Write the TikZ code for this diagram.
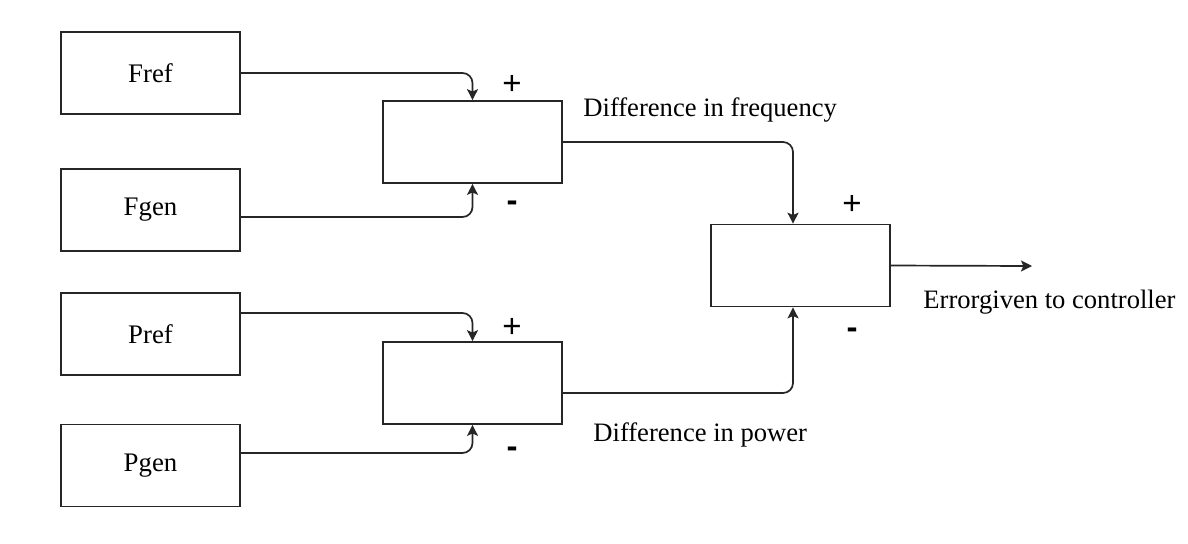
\documentclass[tikz,border=0pt]{standalone}
\usepackage{fontspec}
\setmainfont{Liberation Serif}
\newfontfamily\signfont{Liberation Sans}
\usetikzlibrary{arrows.meta}
\begin{document}
\begin{tikzpicture}[x=0.5pt,y=-0.5pt,
  blk/.style={draw=black!85,line width=0.85pt,minimum width=89.5pt,minimum height=41pt,inner sep=0pt,font=\fontsize{13.4}{16}\selectfont},
  conn/.style={draw=black!85,line width=0.85pt,rounded corners=5pt,-{Stealth[length=5.5pt,width=5.5pt,inset=1.2pt]}},
  lbl/.style={anchor=base west,inner sep=0pt,font=\fontsize{13.3}{16}\selectfont},
  sgn/.style={inner sep=0pt,font=\signfont\fontsize{16.5}{18}\selectfont},
  msgn/.style={inner sep=0pt,font=\signfont\bfseries\fontsize{16.5}{18}\selectfont}]
\useasboundingbox (0,0) rectangle (1188,543);
\node[blk] (Fref) at (150.5,73) {Fref};
\node[blk] (Fgen) at (150.5,210) {Fgen};
\node[blk] (Pref) at (150.5,334) {Pref};
\node[blk] (Pgen) at (150.5,465.5) {Pgen};
\node[blk] (S1) at (472.5,142) {};
\node[blk] (S2) at (472.5,383) {};
\node[blk] (S3) at (800.5,265.5) {};
\coordinate (out) at (1032,266);
\draw[conn] (Fref.east) -| (S1.north);
\draw[conn] ([yshift=-3.5pt]Fgen.east) -| (S1.south);
\draw[conn] ([yshift=10.5pt]Pref.east) -| (S2.north);
\draw[conn] ([yshift=6.25pt]Pgen.east) -| (S2.south);
\draw[conn] (S1.east) -| ([xshift=-3.75pt]S3.north);
\draw[conn] ([yshift=-5pt]S2.east) -| ([xshift=-3.75pt]S3.south);
\draw[conn] (S3.east) -- (out);
\node[sgn] (p1) at (512,85) {+};
\node[msgn] (m1) at (512,206) {-};
\node[sgn] (p2) at (512,328) {+};
\node[msgn] (m2) at (512,452) {-};
\node[sgn] (p3) at (852,205) {+};
\node[msgn] (m3) at (852,333) {-};
\node[lbl] (df) at (583,116) {Difference in frequency};
\node[lbl] (dp) at (593,441) {Difference in power};
\node[lbl] (err) at (923,308) {Errorgiven to controller};
\end{tikzpicture}
\end{document}
